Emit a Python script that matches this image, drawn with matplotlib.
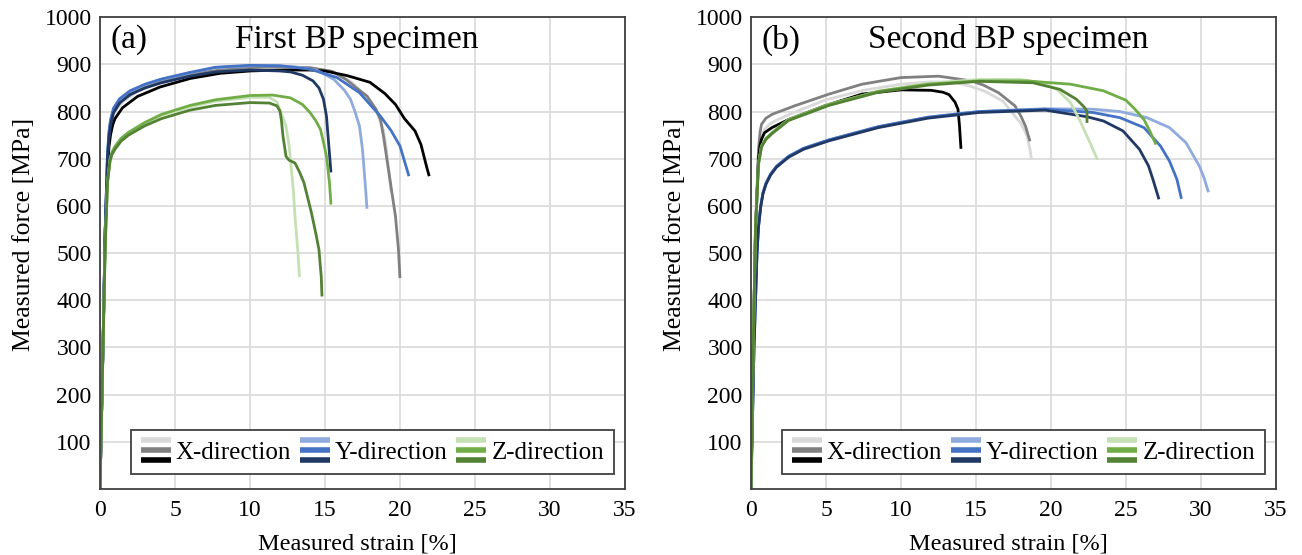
import matplotlib
matplotlib.use('Agg')
import matplotlib.pyplot as plt
from matplotlib.legend_handler import HandlerBase
from matplotlib.lines import Line2D

plt.rcParams['font.family'] = ['Liberation Serif', 'DejaVu Serif']

# ─────────────────────────────────────────────
# DATA (strain [%], stress [MPa])
# ─────────────────────────────────────────────

# (a) First BP specimen
a_x1_strain = [0, 0.2, 0.35, 0.5, 0.6, 0.7, 0.85, 1.0, 1.5, 2.5, 4, 6, 8, 10, 12, 14, 15.5, 16.8, 17.8, 18.5, 18.9, 19.1, 19.3, 19.4]
a_x1_stress = [0, 300, 550, 700, 745, 770, 790, 800, 820, 843, 862, 878, 888, 893, 895, 893, 885, 862, 830, 795, 760, 720, 660, 630]
a_x2_strain = [0, 0.2, 0.35, 0.5, 0.6, 0.7, 0.85, 1.0, 1.5, 2.5, 4, 6, 8, 10, 12, 14, 15.5, 16.4, 17.3, 17.8, 18.4, 18.7, 18.9, 19.1, 19.3, 19.5, 19.7, 19.9, 20.0]
a_x2_stress = [0, 300, 550, 700, 750, 775, 795, 805, 825, 845, 863, 879, 888, 893, 895, 893, 885, 868, 845, 833, 805, 783, 748, 705, 663, 620, 578, 507, 447]
a_x3_strain = [0, 0.2, 0.35, 0.5, 0.6, 0.7, 0.85, 1.0, 1.5, 2.5, 4, 6, 8, 10, 12, 14, 15, 16.5, 18, 19, 19.7, 20.3, 21, 21.4, 21.6, 21.8, 21.95]
a_x3_stress = [0, 300, 550, 680, 725, 750, 772, 785, 808, 832, 852, 870, 881, 886, 888, 888, 886, 876, 862, 838, 815, 785, 759, 730, 705, 680, 663]

a_y1_strain = [0, 0.2, 0.35, 0.5, 0.6, 0.7, 0.9, 1.3, 2, 3, 4.1, 6, 7.7, 10, 12, 13.5, 14.5, 15.6, 16.3, 16.7, 17.0, 17.3, 17.5, 17.6, 17.7, 17.8]
a_y1_stress = [0, 300, 550, 710, 755, 780, 805, 825, 842, 857, 868, 882, 893, 897, 897, 893, 887, 868, 845, 826, 800, 769, 720, 680, 640, 594]
a_y2_strain = [0, 0.2, 0.35, 0.5, 0.6, 0.7, 0.9, 1.3, 2, 3, 4.1, 6, 7.7, 10, 12, 14, 15.8, 17.3, 18.7, 19.4, 20, 20.3, 20.6]
a_y2_stress = [0, 300, 550, 710, 757, 782, 807, 827, 844, 858, 869, 883, 894, 898, 897, 890, 872, 840, 790, 760, 727, 695, 663]
a_y3_strain = [0, 0.2, 0.35, 0.5, 0.6, 0.7, 0.9, 1.3, 2, 3, 4.1, 6, 7.7, 10, 12, 12.7, 13.5, 14.2, 14.6, 14.9, 15.1, 15.2, 15.3, 15.4]
a_y3_stress = [0, 300, 550, 700, 745, 770, 797, 818, 836, 850, 861, 875, 884, 888, 886, 884, 877, 865, 850, 826, 790, 750, 710, 671]

a_z1_strain = [0, 0.2, 0.35, 0.5, 0.67, 0.8, 1.0, 1.4, 1.9, 3, 4.1, 6, 7.7, 10, 11.3, 11.8, 12.1, 12.4, 12.6, 12.7, 12.9, 13.0, 13.2, 13.3]
a_z1_stress = [0, 300, 520, 650, 698, 713, 725, 742, 755, 775, 792, 810, 822, 830, 830, 820, 795, 769, 730, 698, 630, 578, 500, 449]
a_z2_strain = [0, 0.2, 0.35, 0.5, 0.67, 0.8, 1.0, 1.4, 1.9, 3, 4.1, 6, 7.7, 10, 11.5, 12.7, 13.5, 14, 14.4, 14.7, 14.9, 15.1, 15.3, 15.4]
a_z2_stress = [0, 300, 520, 650, 698, 714, 726, 743, 756, 777, 794, 813, 825, 834, 835, 829, 815, 798, 780, 762, 735, 705, 649, 603]
a_z3_strain = [0, 0.2, 0.35, 0.5, 0.67, 0.8, 1.0, 1.4, 1.9, 3, 4.1, 6, 7.7, 10, 11.3, 11.8, 12.0, 12.1, 12.2, 12.4, 12.6, 13, 13.3, 13.6, 14.1, 14.4, 14.6, 14.75, 14.8]
a_z3_stress = [0, 300, 520, 650, 695, 709, 720, 737, 750, 770, 785, 803, 813, 819, 818, 812, 801, 780, 748, 705, 697, 691, 672, 649, 585, 540, 507, 450, 408]

# (b) Second BP specimen
b_x1_strain = [0, 0.15, 0.3, 0.5, 0.7, 0.9, 1.3, 1.8, 3, 5, 7.5, 10, 12, 13.5, 14.5, 15.6, 16.8, 17.4, 18.0, 18.4, 18.6, 18.7]
b_x1_stress = [0, 300, 550, 700, 745, 762, 775, 783, 800, 825, 845, 858, 863, 862, 855, 843, 822, 798, 775, 748, 720, 698]
b_x2_strain = [0, 0.15, 0.3, 0.5, 0.6, 0.7, 1.0, 1.4, 2.9, 5.2, 7.4, 10, 12.5, 14.7, 15.5, 16.5, 17.6, 18.0, 18.3, 18.6]
b_x2_stress = [0, 300, 550, 720, 755, 773, 786, 794, 812, 837, 858, 872, 875, 865, 856, 840, 812, 790, 769, 737]
b_x3_strain = [0, 0.15, 0.3, 0.5, 0.6, 0.7, 0.9, 1.4, 2.5, 4.9, 7.4, 10, 12, 12.8, 13.2, 13.6, 13.8, 13.9, 14.0]
b_x3_stress = [0, 300, 550, 700, 728, 741, 755, 766, 783, 812, 837, 846, 845, 841, 836, 820, 805, 770, 721]

b_y1_strain = [0, 0.2, 0.4, 0.5, 0.65, 0.8, 1.0, 1.3, 1.7, 2.5, 3.5, 5.2, 8.5, 11.8, 15.2, 19.6, 22.8, 24.6, 26.4, 27.9, 29, 29.9, 30.2, 30.5]
b_y1_stress = [0, 300, 500, 557, 600, 628, 648, 667, 684, 705, 722, 740, 768, 788, 800, 806, 805, 800, 787, 766, 734, 684, 660, 629]
b_y2_strain = [0, 0.2, 0.4, 0.5, 0.65, 0.8, 1.0, 1.3, 1.7, 2.5, 3.5, 5.2, 8.5, 11.8, 15.2, 19.6, 22.8, 24.6, 26.2, 27.3, 27.9, 28.4, 28.7]
b_y2_stress = [0, 300, 500, 557, 600, 628, 648, 667, 684, 705, 722, 740, 768, 788, 800, 805, 798, 787, 766, 727, 695, 656, 615]
b_y3_strain = [0, 0.2, 0.4, 0.5, 0.65, 0.8, 1.0, 1.3, 1.7, 2.5, 3.5, 5.2, 8.5, 11.8, 15.2, 19.6, 22.4, 23.5, 24.8, 25.9, 26.5, 26.8, 27.2]
b_y3_stress = [0, 300, 500, 555, 598, 626, 646, 665, 682, 703, 720, 738, 766, 786, 798, 803, 789, 780, 759, 720, 685, 656, 614]

b_z1_strain = [0, 0.15, 0.3, 0.5, 0.7, 1.0, 1.4, 2.5, 5.2, 8.5, 11.8, 15.2, 18, 19.5, 20.4, 21.3, 21.9, 22.3, 22.6, 23.1]
b_z1_stress = [0, 300, 550, 690, 727, 743, 755, 783, 815, 843, 860, 868, 868, 860, 847, 819, 783, 755, 734, 698]
b_z2_strain = [0, 0.15, 0.3, 0.5, 0.7, 1.0, 1.4, 2.5, 5.2, 8.5, 11.8, 15.2, 18.4, 19.6, 21.3, 23.5, 25, 25.6, 26.2, 26.6, 27.0]
b_z2_stress = [0, 300, 550, 690, 727, 743, 755, 783, 815, 843, 858, 865, 865, 862, 858, 844, 824, 805, 783, 758, 730]
b_z3_strain = [0, 0.15, 0.3, 0.5, 0.7, 1.0, 1.4, 2.5, 5.2, 8.5, 11.8, 15.2, 18.8, 20.6, 21.7, 22.2, 22.4, 22.4]
b_z3_stress = [0, 300, 550, 688, 725, 741, 753, 781, 813, 841, 856, 864, 861, 847, 826, 810, 801, 776]

panels = [
    ('(a)', 'First BP specimen', [
        [(a_x1_strain, a_x1_stress), (a_x2_strain, a_x2_stress), (a_x3_strain, a_x3_stress)],
        [(a_y1_strain, a_y1_stress), (a_y2_strain, a_y2_stress), (a_y3_strain, a_y3_stress)],
        [(a_z1_strain, a_z1_stress), (a_z2_strain, a_z2_stress), (a_z3_strain, a_z3_stress)],
    ]),
    ('(b)', 'Second BP specimen', [
        [(b_x1_strain, b_x1_stress), (b_x2_strain, b_x2_stress), (b_x3_strain, b_x3_stress)],
        [(b_y1_strain, b_y1_stress), (b_y2_strain, b_y2_stress), (b_y3_strain, b_y3_stress)],
        [(b_z1_strain, b_z1_stress), (b_z2_strain, b_z2_stress), (b_z3_strain, b_z3_stress)],
    ]),
]

group_labels = ['X-direction', 'Y-direction', 'Z-direction']
group_colors = [
    ['#d9d9d9', '#808080', '#000000'],
    ['#8faadc', '#4472c4', '#203864'],
    ['#c5e0b4', '#70ad47', '#548235'],
]


# three stacked lines per legend entry
class StackHandler(HandlerBase):
    def create_artists(self, legend, orig_handle, xdescent, ydescent,
                       width, height, fontsize, trans):
        arts = []
        n = len(orig_handle)
        for i, ln in enumerate(orig_handle):
            y = height * (1.0 - i / (n - 1)) - ydescent
            l = Line2D([-xdescent, -xdescent + width], [y, y],
                       color=ln.get_color(), lw=4.0, solid_capstyle='butt')
            l.set_transform(trans)
            arts.append(l)
        return arts


fig = plt.figure(figsize=(13.02, 5.55), dpi=100)
ax_pos = [[0.0768, 0.119, 0.4032, 0.850], [0.5768, 0.119, 0.4032, 0.850]]

for k, (tag, title, groups) in enumerate(panels):
    ax = fig.add_axes(ax_pos[k])
    handles = []
    for g, curves in enumerate(groups):
        lines = []
        for c, (strain, stress) in enumerate(curves):
            ln, = ax.plot(strain, stress, color=group_colors[g][c], lw=2.0,
                          solid_joinstyle='round', solid_capstyle='butt')
            lines.append(ln)
        handles.append(tuple(lines))

    ax.set_xlim(0, 35)
    ax.set_ylim(0, 1000)
    ax.set_xticks(range(0, 36, 5))
    ax.set_yticks(range(100, 1001, 100))
    ax.tick_params(length=0, labelsize=17)
    ax.tick_params(axis='x', pad=8)
    ax.tick_params(axis='y', pad=6)
    ax.grid(color='#d9d9d9', lw=1.2)
    ax.set_axisbelow(True)
    for sp in ax.spines.values():
        sp.set_color('#404040')
        sp.set_linewidth(1.3)

    ax.set_xlabel('Measured strain [%]', fontsize=17.5)
    ax.xaxis.set_label_coords(0.49, -0.095)
    ax.set_ylabel('Measured force [MPa]', fontsize=18.5)
    ax.yaxis.set_label_coords(-0.123, 0.54)

    ax.text(0.02, 0.985, tag, transform=ax.transAxes, fontsize=24,
            ha='left', va='top')
    ax.text(0.49, 0.985, title, transform=ax.transAxes, fontsize=24,
            ha='center', va='top')

    leg = ax.legend(handles, group_labels, handler_map={tuple: StackHandler()},
                    ncol=3, loc='lower right', bbox_to_anchor=(0.979, 0.032),
                    borderaxespad=0, fontsize=18, handlelength=1.2,
                    handleheight=0.85, handletextpad=0.2, columnspacing=0.35,
                    borderpad=0.4, fancybox=False, framealpha=1,
                    edgecolor='#404040')
    leg.get_frame().set_linewidth(1.3)

fig.savefig('out.png', dpi=100)
